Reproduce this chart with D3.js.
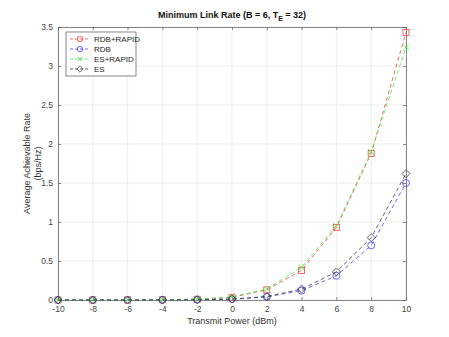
<!DOCTYPE html>
<html>
<head>
<meta charset="utf-8">
<script src="https://cdn.jsdelivr.net/npm/d3@7"></script>
<style>
  body { margin: 0; background: #fff; }
  text { font-family: "Liberation Sans", Arial, sans-serif; }
</style>
</head>
<body>
<script>
const power = [-10, -8, -6, -4, -2, 0, 2, 4, 6, 8, 10]
const rdbRapid = [0, 0, 0.001, 0.003, 0.01, 0.035, 0.13, 0.38, 0.93, 1.88, 3.43]
const rdb = [0, 0, 0, 0.001, 0.003, 0.01, 0.04, 0.12, 0.31, 0.7, 1.5]
const esRapid = [0, 0, 0.001, 0.003, 0.011, 0.04, 0.14, 0.42, 0.95, 1.9, 3.24]
const es = [0, 0, 0, 0.001, 0.004, 0.012, 0.045, 0.14, 0.36, 0.8, 1.62]
const xTicks = [-10, -8, -6, -4, -2, 0, 2, 4, 6, 8, 10]
const yTicks = [0, 0.5, 1, 1.5, 2, 2.5, 3, 3.5]

const series = [
  { name: 'RDB+RAPID', values: rdbRapid, color: '#ff4040', marker: 'square' },
  { name: 'RDB', values: rdb, color: '#4040ff', marker: 'circle' },
  { name: 'ES+RAPID', values: esRapid, color: '#40ee40', marker: 'x' },
  { name: 'ES', values: es, color: '#3a3a3a', marker: 'diamond' }
]

const W = 449, H = 337
const m = { left: 58, right: 43, top: 27, bottom: 37 }

const svg = d3.select('body').append('svg')
  .attr('width', W)
  .attr('height', H)

const x = d3.scaleLinear().domain([-10, 10]).range([m.left, W - m.right])
const y = d3.scaleLinear().domain([0, 3.5]).range([H - m.bottom, m.top])

// grid
svg.append('g').selectAll('line').data(xTicks).enter().append('line')
  .attr('x1', d => x(d)).attr('x2', d => x(d))
  .attr('y1', y(0)).attr('y2', y(3.5))
  .attr('stroke', '#e6e6e6').attr('stroke-width', 0.7)
svg.append('g').selectAll('line').data(yTicks).enter().append('line')
  .attr('y1', d => y(d)).attr('y2', d => y(d))
  .attr('x1', x(-10)).attr('x2', x(10))
  .attr('stroke', '#e6e6e6').attr('stroke-width', 0.7)

// axes (ticks inward)
svg.append('g')
  .attr('transform', 'translate(0,' + y(0) + ')')
  .call(d3.axisBottom(x).tickValues(xTicks).tickSizeInner(-3).tickSizeOuter(0).tickPadding(6).tickFormat(d => String(d)))
svg.append('g')
  .attr('transform', 'translate(' + x(-10) + ',0)')
  .call(d3.axisLeft(y).tickValues(yTicks).tickSizeInner(-3).tickSizeOuter(0).tickPadding(5).tickFormat(d => String(d)))
svg.append('g')
  .attr('transform', 'translate(0,' + y(3.5) + ')')
  .call(d3.axisTop(x).tickValues(xTicks).tickSizeInner(-3).tickSizeOuter(0).tickFormat(''))
svg.append('g')
  .attr('transform', 'translate(' + x(10) + ',0)')
  .call(d3.axisRight(y).tickValues(yTicks).tickSizeInner(-3).tickSizeOuter(0).tickFormat(''))

svg.selectAll('.domain').attr('stroke', '#555').attr('stroke-width', 0.7)
svg.selectAll('.tick line').attr('stroke', '#555').attr('stroke-width', 0.7)
svg.selectAll('.tick text').attr('fill', '#444').style('font-size', '8.5px')

// lines
const line = d3.line().x((d, i) => x(power[i])).y(d => y(d))

function drawMarker(g, type, color, s) {
  if (type === 'square') {
    g.append('rect').attr('x', -s).attr('y', -s).attr('width', 2 * s).attr('height', 2 * s)
      .attr('fill', 'none').attr('stroke', color).attr('stroke-width', 0.8)
  } else if (type === 'circle') {
    g.append('circle').attr('r', s + 0.5)
      .attr('fill', 'none').attr('stroke', color).attr('stroke-width', 0.8)
  } else if (type === 'x') {
    g.append('path').attr('d', `M${-s},${-s}L${s},${s}M${-s},${s}L${s},${-s}`)
      .attr('stroke', color).attr('stroke-width', 0.8)
  } else {
    const d = s + 1
    g.append('path').attr('d', `M0,${-d}L${d},0L0,${d}L${-d},0Z`)
      .attr('fill', 'none').attr('stroke', color).attr('stroke-width', 0.8)
  }
}

series.forEach(s => {
  svg.append('path')
    .datum(s.values)
    .attr('d', line)
    .attr('fill', 'none')
    .attr('stroke', s.color)
    .attr('stroke-width', 0.8)
    .attr('stroke-dasharray', '4,3')
  s.values.forEach((v, i) => {
    const g = svg.append('g').attr('transform', 'translate(' + x(power[i]) + ',' + y(v) + ')')
    drawMarker(g, s.marker, s.color, 3)
  })
})

// legend
const lg = svg.append('g').attr('transform', 'translate(66,32)')
lg.append('rect').attr('width', 70).attr('height', 44)
  .attr('fill', '#fff').attr('stroke', '#555').attr('stroke-width', 0.7)
series.forEach((s, i) => {
  const row = lg.append('g').attr('transform', 'translate(0,' + (7 + i * 10) + ')')
  row.append('line').attr('x1', 4).attr('x2', 24).attr('y1', 0).attr('y2', 0)
    .attr('stroke', s.color).attr('stroke-width', 0.8).attr('stroke-dasharray', '3,2')
  drawMarker(row.append('g').attr('transform', 'translate(14,0)'), s.marker, s.color, 2.2)
  row.append('text').attr('x', 28).attr('y', 3).style('font-size', '8px').attr('fill', '#222').text(s.name)
})

// title
const title = svg.append('text').attr('x', (x(-10) + x(10)) / 2).attr('y', 18)
  .attr('text-anchor', 'middle').style('font-size', '9px').style('font-weight', 'bold').attr('fill', '#111')
title.append('tspan').text('Minimum Link Rate (B = 6, T')
title.append('tspan').attr('dy', 3).style('font-size', '7px').text('E')
title.append('tspan').attr('dy', -3).text(' = 32)')

// axis labels
svg.append('text').attr('x', (x(-10) + x(10)) / 2).attr('y', 324)
  .attr('text-anchor', 'middle').style('font-size', '9px').attr('fill', '#333')
  .text('Transmit Power (dBm)')
const yl = svg.append('text').attr('transform', 'translate(30,' + (y(1.75)) + ') rotate(-90)')
  .attr('text-anchor', 'middle').style('font-size', '9px').attr('fill', '#333')
yl.append('tspan').attr('x', 0).attr('dy', 0).text('Average Achievable Rate')
yl.append('tspan').attr('x', 0).attr('dy', 11).text('(bps/Hz)')
</script>
</body>
</html>
